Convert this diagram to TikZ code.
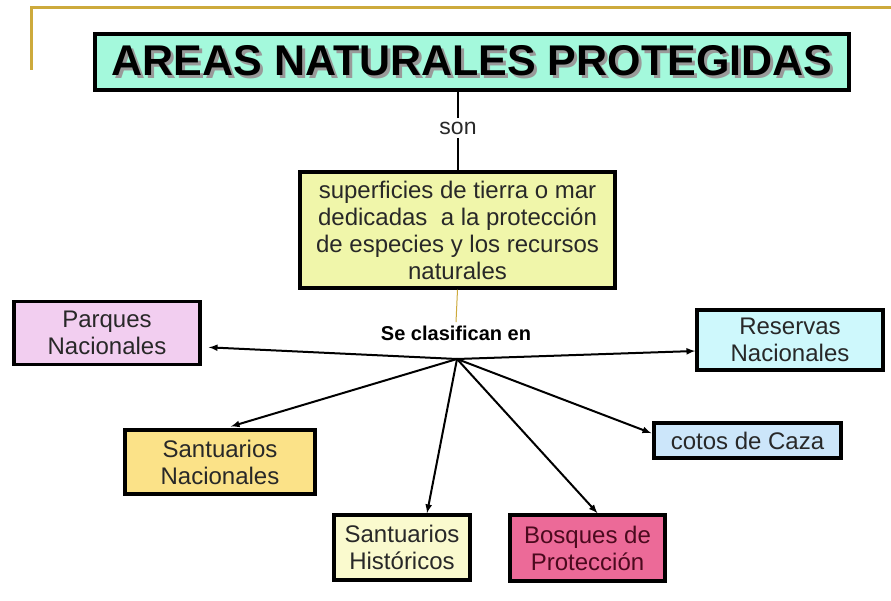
\documentclass[tikz,border=0pt]{standalone}
\usepackage{fontspec}
\setmainfont{Liberation Sans}
\usetikzlibrary{arrows}
\definecolor{goldline}{RGB}{205,170,60}
\definecolor{titlefill}{RGB}{164,249,220}
\definecolor{deffill}{RGB}{240,246,170}
\definecolor{parquesfill}{RGB}{242,206,240}
\definecolor{reservasfill}{RGB}{206,248,252}
\definecolor{cotosfill}{RGB}{204,230,250}
\definecolor{santnacfill}{RGB}{251,226,136}
\definecolor{santhistfill}{RGB}{250,250,206}
\definecolor{bosquesfill}{RGB}{236,106,152}
\definecolor{txt}{RGB}{40,40,40}
\definecolor{bosquestxt}{RGB}{75,10,30}
\newcommand{\shadowtext}[1]{\makebox[0pt][l]{\hspace{3pt}\raisebox{-3pt}{\color{black!40}#1}}#1}
\begin{document}
\begin{tikzpicture}[x=1pt,y=-1pt,
 box/.style={draw,line width=3.5pt,inner sep=0pt,align=center,text=txt,
  font=\fontsize{24}{27}\selectfont},
 link/.style={line width=2pt,-latex}]
 \useasboundingbox (0,0) rectangle (891,601);
 % marco dorado
 \draw[goldline,line width=3pt] (31,70) -- (31,8) -- (891,8);
 % titulo
 \node[box,fill=titlefill,text=black,minimum width=754pt,minimum height=56pt,
  font=\fontsize{43}{43}\bfseries] (title) at (472,62) {\shadowtext{AREAS NATURALES PROTEGIDAS}};
 \node[text=txt,font=\fontsize{23}{23}\selectfont] (son) at (458,128) {son};
 \node[box,fill=deffill,minimum width=315pt,minimum height=116pt] (def) at (457.5,230)
  {superficies de tierra o mar\\dedicadas\ \ a la protección\\de especies y los recursos\\naturales};
 \node[text=black,font=\fontsize{20}{20}\bfseries] (clasif) at (456,333) {Se clasifican en};
 \coordinate (hub) at (457,359);
 % clases
 \node[box,fill=parquesfill,minimum width=186pt,minimum height=63pt] (parques) at (107,333) {Parques\\Nacionales};
 \node[box,fill=reservasfill,minimum width=186pt,minimum height=60pt] (reservas) at (790,340) {Reservas\\Nacionales};
 \node[box,fill=cotosfill,minimum width=187pt,minimum height=35pt] (cotos) at (747.5,440.5) {cotos de Caza};
 \node[box,fill=santnacfill,minimum width=190pt,minimum height=64pt] (santnac) at (220,462) {Santuarios\\Nacionales};
 \node[box,fill=santhistfill,minimum width=136pt,minimum height=65pt] (santhist) at (402,547.5) {Santuarios\\Históricos};
 \node[box,fill=bosquesfill,text=bosquestxt,minimum width=155pt,minimum height=66pt] (bosques) at (587.5,548) {Bosques de\\Protección};
 % conectores
 \draw[line width=2pt] (son.north) -- (son.north |- title.south);
 \draw[line width=2pt] (son.south) -- (son.south |- def.north);
 \draw[goldline,line width=1pt] (def.south) -- (clasif.north);
 \draw[link,shorten >=7pt] (hub) -- ([yshift=-14pt]parques.east);
 \draw[link] (hub) -- ([yshift=-11pt]reservas.west);
 \draw[link,shorten >=1pt] (hub) -- ([yshift=7pt]cotos.west);
 \draw[link,shorten >=6pt] (hub) -- ([xshift=5pt]santnac.north);
 \draw[link] (hub) -- ([xshift=25pt]santhist.north);
 \draw[link] (hub) -- ([xshift=10pt]bosques.north);
\end{tikzpicture}
\end{document}
